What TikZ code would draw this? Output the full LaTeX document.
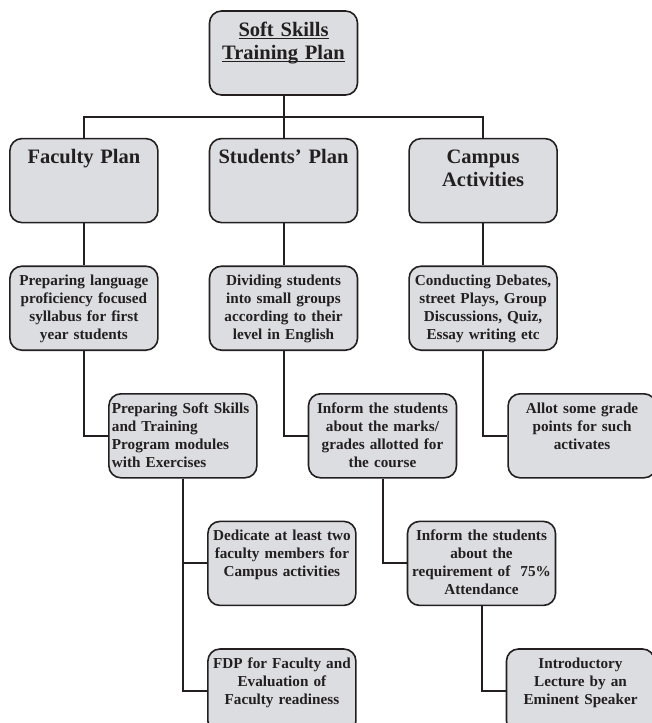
\documentclass[tikz,border=0pt]{standalone}
\usepackage{fontspec}
\setmainfont{Liberation Serif}
\usepackage{tikz}
\usetikzlibrary{positioning}
\definecolor{boxfill}{RGB}{220,221,224}
\definecolor{ink}{RGB}{35,31,32}
\newsavebox{\undbox}
\newcommand{\undrule}[1]{\mbox{\sbox{\undbox}{#1}\rlap{\rule[-2.8pt]{\wd\undbox}{1.3pt}}\usebox{\undbox}}}

\begin{document}
\begin{tikzpicture}[x=1pt, y=1pt, node distance={42pt and 50pt}, color=ink, line width=2pt,
  box/.style = {draw, fill=boxfill, line width=1.6pt, rounded corners=12pt, text width=142pt, inner xsep=3pt, inner ysep=0pt, minimum height=84pt, text height=19.5pt, text depth=64.5pt, align=center, font=\bfseries\fontsize{15.2pt}{18pt}\selectfont},
  head/.style = {box, text height=25pt, text depth=59pt, font=\bfseries\fontsize{20.5pt}{23pt}\selectfont}]
  \useasboundingbox (0,0) rectangle (652,-723);

  \node[head] (1) at (283.5,-53) {\undrule{Soft Skills}\\\undrule{Training Plan}};
  \node[head] (3) [below=of 1] {Students' Plan};
  \node[head] (2) [left=of 3] {Faculty Plan};
  \node[head] (4) [right=of 3] {Campus\\Activities};

  \node[box] (5) [below=of 2] {Preparing language\\proficiency focused\\syllabus for first\\year students};
  \node[box] (6) [below=of 3] {Dividing students\\into small groups\\according to their\\level in English};
  \node[box] (7) [below=of 4] {Conducting Debates,\\street Plays, Group\\Discussions, Quiz,\\Essay writing etc};

  \node[box, align=left] (8) [below=of 5, xshift=99pt] {Preparing Soft Skills\\and Training\\Program modules\\with Exercises};
  \node[box] (9) [below=of 6, xshift=99pt] {Inform the students\\about the marks/\\grades allotted for\\the course};
  \node[box] (10) [below=of 7, xshift=99pt] {Allot some grade\\points for such\\activates};

  \node[box] (11) [below=of 8, xshift=99pt] {Dedicate at least two\\faculty members for\\Campus activities};
  \node[box] (12) [below=of 11] {FDP for Faculty and\\Evaluation of\\Faculty readiness};
  \node[box] (13) [below=of 9, xshift=99pt] {Inform the students\\about the\\requirement of~ 75\%\\Attendance};
  \node[box] (14) [below=of 13, xshift=99pt] {Introductory\\Lecture by an\\Eminent Speaker};

  \draw (1.south) -- ++(0,-21) -| (2.north);
  \draw (1.south) -- ++(0,-21) -| (4.north);
  \draw (1) -- (3);
  \draw (2) -- (5);
  \draw (3) -- (6);
  \draw (4) -- (7);
  \draw (5) |- (8);
  \draw (6) |- (9);
  \draw (7) |- (10);
  \draw (8) |- (11);
  \draw (8) |- (12);
  \draw (9) |- (13);
  \draw (13) |- (14);

\end{tikzpicture}
\end{document}
